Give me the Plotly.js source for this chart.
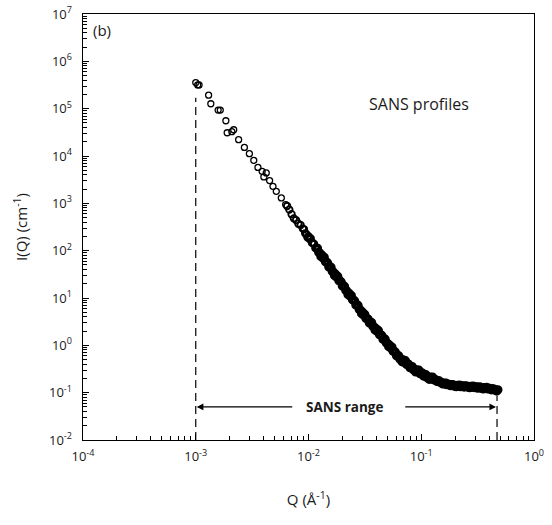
<!DOCTYPE html>
<html><head><meta charset="utf-8">
<script src="https://cdn.plot.ly/plotly-3.0.1.min.js"></script>
<style>html,body{margin:0;padding:0;background:#fff}#chart{width:552px;height:525px}</style>
</head><body><div id="chart"></div>
<script>
// Sparse low-Q points
const qSparse = [0.00100,0.00104,0.00107,0.00130,0.00136,0.00158,0.00165,0.00185,0.00190,0.00209,0.00217,0.00240,0.00270,0.00299,0.00327,0.00356,0.00388,0.00402,0.00422,0.00452,0.00484,0.00518,0.00574,0.00627];
const iSparse = [356000,318000,318000,193000,127000,93300,93300,55500,31000,32600,35900,22100,15200,11200,8090,5750,4740,3610,4390,3020,2290,1790,1300,942];

// Closely spaced points (individual circles still visible)
const qMid = [0.00646,0.00676,0.00708,0.00741,0.00776,0.00813,0.00851,0.00891,0.00912,0.00933,0.00955,0.00977,0.0100,0.01023,0.01047,0.01072,0.01096,0.01122,0.01148,0.01175];
const iMid = [879,736,589,482,443,371,348,292,283,233,226,191,203,175,182,147,146,138,114,116];

// Dense points (overlapping into a solid band)
const qDense = [0.01202,0.01230,0.01259,0.01288,0.01318,0.01349,0.01380,0.01413,0.01445,0.01479,0.01514,0.01549,0.01585,0.01622,0.01660,0.01698,0.01738,0.01778,0.01820,0.01862,0.01905,0.01950,0.01995,0.02042,0.02089,0.02138,0.02188,0.02239,0.02291,0.02344,0.02399,0.02455,0.02512,0.02570,0.02630,0.02692,0.02754,0.02818,0.02884,0.02951,0.03020,0.03090,0.03162,
0.03236,0.03311,0.03388,0.03467,0.03548,0.03631,0.03715,0.03802,0.03890,0.03981,0.04074,0.04169,0.04266,0.04365,0.04467,0.04571,0.04677,0.04786,0.04898,0.05012,0.05129,0.05248,0.05370,0.05495,0.05623,0.05754,0.05888,0.06026,0.06166,0.06310,0.06457,0.06607,0.06761,0.06918,0.07079,0.07244,0.07413,0.07586,0.07762,0.07943,0.08128,0.08318,0.08511,0.08710,0.08913,0.09120,0.09333,0.09550,0.09772,0.1000,
0.1023,0.1047,0.1072,0.1096,0.1122,0.1148,0.1175,0.1202,0.1230,0.1259,
0.1288,0.1318,0.1349,0.1380,0.1413,0.1445,0.1479,0.1514,0.1549,0.1585,0.1622,0.1660,0.1698,0.1738,0.1778,0.1820,0.1862,0.1905,0.1950,0.1995,0.2042,0.2089,0.2138,0.2188,0.2239,0.2291,0.2344,0.2399,0.2455,0.2512,0.2570,0.2630,0.2692,0.2754,0.2818,0.2884,0.2951,0.3020,0.3090,0.3162,0.3236,0.3311,0.3388,0.3467,0.3548,0.3631,0.3715,0.3802,0.3890,0.3981,0.4074,0.4169,0.4266,0.4365,0.4467,0.4571,0.4677,0.4786];
const iDense = [112,92.5,89.6,75.7,80.4,69.5,72.2,58.2,57.7,54.7,45.1,45.8,44.4,36.6,35.5,30.0,31.9,27.5,28.6,23.1,22.9,21.7,17.9,18.2,17.6,14.5,14.1,11.9,12.6,10.9,11.3,9.14,9.07,8.59,7.09,7.19,6.97,5.75,5.58,4.71,5.01,4.33,4.49,
3.67,3.70,3.56,2.98,3.07,3.02,2.52,2.47,2.10,2.25,1.97,2.07,1.68,1.69,1.61,1.34,1.38,1.35,1.12,1.10,0.940,1.01,0.879,0.923,0.752,0.753,0.719,0.600,0.615,0.603,0.514,0.515,0.449,0.493,0.441,0.473,0.394,0.405,0.395,0.337,0.354,0.355,0.306,0.310,0.274,0.305,0.275,0.299,0.252,0.262,
0.259,0.224,0.238,0.241,0.209,0.214,0.191,0.214,0.195,0.214,
0.187,0.189,0.187,0.173,0.177,0.177,0.163,0.163,0.153,0.160,0.152,0.159,0.147,0.150,0.150,0.140,0.146,0.148,0.138,0.141,0.134,0.143,0.137,0.145,0.134,0.138,0.140,0.131,0.137,0.140,0.131,0.134,0.127,0.136,0.131,0.138,0.128,0.132,0.132,0.124,0.130,0.132,0.124,0.126,0.120,0.128,0.123,0.129,0.120,0.123,0.123,0.115,0.120,0.121,0.114,0.115,0.108,0.115];

// SANS range markers
const rangeQ = [0.001, 0.47];
const dashTopI = [1.7e5, 0.085];
const dashBottomI = 0.01;
const arrowI = 0.05;
const arrowTailQ = [0.0074, 0.07];

const xTickVals = [1e-4, 1e-3, 1e-2, 1e-1, 1];
const xTickText = ['10<sup>-4</sup>','10<sup>-3</sup>','10<sup>-2</sup>','10<sup>-1</sup>','10<sup>0</sup>'];
const yTickVals = [1e-2, 1e-1, 1, 1e1, 1e2, 1e3, 1e4, 1e5, 1e6, 1e7];
const yTickText = ['10<sup>-2</sup>','10<sup>-1</sup>','10<sup>0</sup>','10<sup>1</sup>','10<sup>2</sup>','10<sup>3</sup>','10<sup>4</sup>','10<sup>5</sup>','10<sup>6</sup>','10<sup>7</sup>'];

function minorVals(lo, hi) {
  const out = [];
  for (let e = lo; e < hi; e++) for (let k = 2; k <= 9; k++) out.push(k * Math.pow(10, e));
  return out;
}

const FONT = '"Open Sans", "Noto Sans", sans-serif';
const TXT = '#1a1a1a';

const traces = [
  {x: qSparse, y: iSparse, type: 'scatter', mode: 'markers',
   marker: {symbol: 'circle-open', size: 6, color: '#000', line: {width: 1.3, color: '#000'}},
   hoverinfo: 'skip', showlegend: false},
  {x: qMid, y: iMid, type: 'scatter', mode: 'markers',
   marker: {symbol: 'circle-open', size: 6.5, color: '#000', line: {width: 1.8, color: '#000'}},
   hoverinfo: 'skip', showlegend: false},
  {x: qDense, y: iDense, type: 'scatter', mode: 'markers',
   marker: {symbol: 'circle-open', size: 6, color: '#000', line: {width: 3.2, color: '#000'}},
   hoverinfo: 'skip', showlegend: false},
  {x: [rangeQ[0], rangeQ[0]], y: [dashBottomI, dashTopI[0]], type: 'scatter', mode: 'lines',
   line: {color: '#000', width: 1.2, dash: '8px,5px'}, hoverinfo: 'skip', showlegend: false},
  {x: [rangeQ[1], rangeQ[1]], y: [dashBottomI, dashTopI[1]], type: 'scatter', mode: 'lines',
   line: {color: '#000', width: 1.2, dash: '8px,5px'}, hoverinfo: 'skip', showlegend: false}
];

const axCommon = {
  type: 'log', showgrid: false, zeroline: false, showline: true, linecolor: '#000', linewidth: 1.4,
  mirror: true, ticks: 'inside', ticklen: 6, tickwidth: 1, tickcolor: '#000',
  tickfont: {family: FONT, size: 13, color: TXT}, tickmode: 'array'
};

const layout = {
  width: 552, height: 525,
  margin: {l: 83, r: 18, t: 14, b: 85},
  paper_bgcolor: '#fff', plot_bgcolor: '#fff',
  font: {family: FONT, color: TXT},
  xaxis: Object.assign({}, axCommon, {
    range: [-4, 0], tickvals: xTickVals, ticktext: xTickText, ticklabelstandoff: 4,
    minor: {tickmode: 'array', tickvals: minorVals(-4, 0), ticks: 'inside', ticklen: 4, tickwidth: 1, tickcolor: '#000', showgrid: false},
    title: {text: 'Q (Å<sup>-1</sup>)', font: {family: FONT, size: 15, color: TXT}, standoff: 30}
  }),
  yaxis: Object.assign({}, axCommon, {
    range: [-2, 7], tickvals: yTickVals, ticktext: yTickText, ticklabelstandoff: 7,
    minor: {tickmode: 'array', tickvals: minorVals(-2, 7), ticks: 'inside', ticklen: 4, tickwidth: 1, tickcolor: '#000', showgrid: false},
    title: {text: 'I(Q) (cm<sup>-1</sup>)', font: {family: FONT, size: 15, color: TXT}, standoff: 17}
  }),
  annotations: [
    {xref: 'paper', yref: 'paper', x: 0.018, y: 0.962, xanchor: 'left', yanchor: 'middle', showarrow: false,
     text: '(b)', font: {family: FONT, size: 15, color: TXT}},
    {xref: 'paper', yref: 'paper', x: 0.744, y: 0.789, xanchor: 'center', yanchor: 'middle', showarrow: false,
     text: 'SANS profiles', font: {family: FONT, size: 16, color: TXT}},
    {xref: 'paper', yref: 'y', x: 0.579, y: Math.log10(arrowI), xanchor: 'center', yanchor: 'middle', showarrow: false,
     text: '<b>SANS range</b>', font: {family: FONT, size: 13.5, color: TXT}},
    {xref: 'x', yref: 'y', axref: 'x', ayref: 'y', x: Math.log10(rangeQ[0]), y: Math.log10(arrowI),
     ax: Math.log10(arrowTailQ[0]), ay: Math.log10(arrowI), showarrow: true, arrowhead: 2, arrowsize: 1.2, arrowwidth: 1.1,
     arrowcolor: '#000', standoff: 1, text: ''},
    {xref: 'x', yref: 'y', axref: 'x', ayref: 'y', x: Math.log10(rangeQ[1]), y: Math.log10(arrowI),
     ax: Math.log10(arrowTailQ[1]), ay: Math.log10(arrowI), showarrow: true, arrowhead: 2, arrowsize: 1.2, arrowwidth: 1.1,
     arrowcolor: '#000', standoff: 1, text: ''}
  ]
};

Plotly.newPlot('chart', traces, layout, {staticPlot: true, displayModeBar: false});
</script>
</body></html>
